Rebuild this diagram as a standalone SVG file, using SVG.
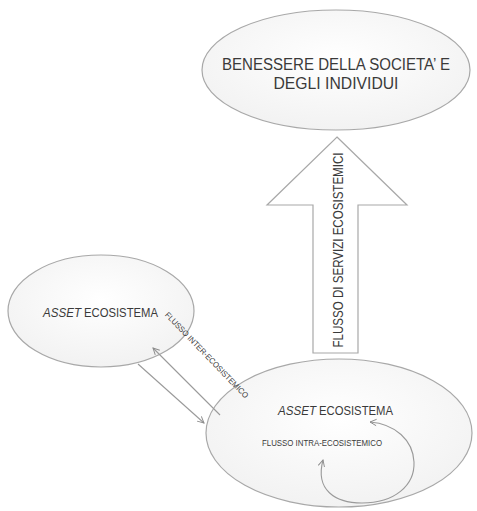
<svg xmlns="http://www.w3.org/2000/svg" width="477" height="511" viewBox="0 0 477 511">
<defs>
<radialGradient id="g" cx="50%" cy="40%" r="60%">
<stop offset="0" stop-color="#ffffff"/>
<stop offset="1" stop-color="#f2f2f2"/>
</radialGradient>
<marker id="ah" viewBox="0 0 10 10" refX="9" refY="5" markerWidth="8" markerHeight="8" markerUnits="userSpaceOnUse" orient="auto-start-reverse">
<polyline points="1,1 9,5 1,9" fill="none" stroke="#8c8c8c" stroke-width="1.2"/>
</marker>
<style>
.ell{fill:url(#g);stroke:#a8a8a8;stroke-width:1.2}
.t{font-family:"Liberation Sans",Arial,sans-serif;fill:#3a3a3a}
.ln{fill:none;stroke:#9a9a9a;stroke-width:1.1}
</style>
</defs>
<rect width="477" height="511" fill="#ffffff"/>
<g id="benessere">
<ellipse class="ell" cx="336" cy="70" rx="134" ry="60"/>
<text class="t" x="336" y="70" font-size="16" text-anchor="middle" textLength="228" lengthAdjust="spacingAndGlyphs">BENESSERE DELLA SOCIETA’ E</text>
<text class="t" x="336" y="89" font-size="16" text-anchor="middle" textLength="125" lengthAdjust="spacingAndGlyphs">DEGLI INDIVIDUI</text>
</g>
<g id="flusso-servizi">
<polygon points="337,137 407,205 358,205 358,353 313,353 313,205 267,205" fill="#ffffff" stroke="#a8a8a8" stroke-width="1.2"/>
<text class="t" transform="translate(343,250) rotate(-90)" x="0" y="0" font-size="15" text-anchor="middle" textLength="195" lengthAdjust="spacingAndGlyphs">FLUSSO DI SERVIZI ECOSISTEMICI</text>
</g>
<g id="asset-left">
<ellipse class="ell" cx="101" cy="311" rx="93" ry="56"/>
<text class="t" x="43" y="317" font-size="12.5" font-style="italic" textLength="38" lengthAdjust="spacingAndGlyphs">ASSET</text>
<text class="t" x="84" y="317" font-size="12.5" textLength="74" lengthAdjust="spacingAndGlyphs">ECOSISTEMA</text>
</g>
<g id="asset-right">
<ellipse class="ell" cx="339" cy="433" rx="133" ry="74"/>
<text class="t" x="278" y="415" font-size="12.5" font-style="italic" textLength="38" lengthAdjust="spacingAndGlyphs">ASSET</text>
<text class="t" x="319" y="415" font-size="12.5" textLength="74" lengthAdjust="spacingAndGlyphs">ECOSISTEMA</text>
<text class="t" x="262" y="446" font-size="8.5" textLength="120" lengthAdjust="spacingAndGlyphs">FLUSSO INTRA-ECOSISTEMICO</text>
</g>
<g id="connectors">
<line class="ln" x1="220" y1="415" x2="153" y2="348" marker-end="url(#ah)"/>
<line class="ln" x1="138" y1="364" x2="204" y2="423" marker-end="url(#ah)"/>
<path class="ln" d="M 323 460 C 315 490, 335 503, 362 503 C 395 503, 415 485, 414 462 C 413 440, 395 424, 370 422" marker-start="url(#ah)" marker-end="url(#ah)"/>
<text class="t" transform="translate(207,355) rotate(46)" x="0" y="3" font-size="8" text-anchor="middle" textLength="116" lengthAdjust="spacingAndGlyphs">FLUSSO INTER-ECOSISTEMICO</text>
</g>
</svg>
